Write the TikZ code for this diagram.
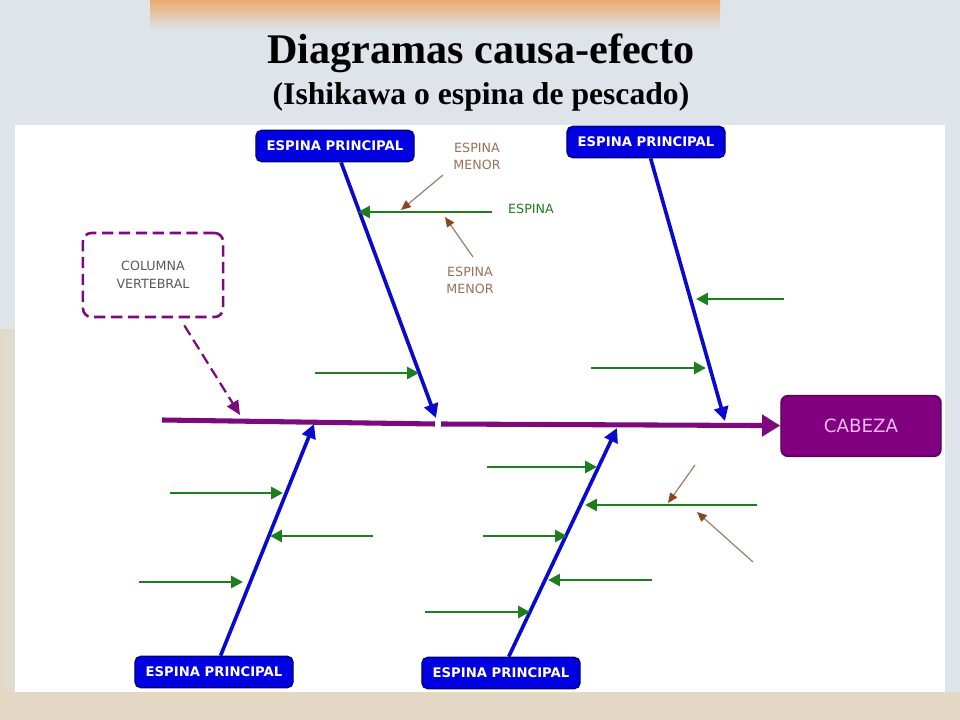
\documentclass[tikz,border=0pt]{standalone}
\usepackage{fontspec}
\setsansfont{DejaVu Sans}
\newfontfamily\titlefont{Liberation Serif}
\usetikzlibrary{arrows.meta}
\definecolor{bgblue}{RGB}{222,228,234}
\definecolor{bgbeige}{RGB}{226,216,196}
\definecolor{bgorange}{RGB}{236,170,110}
\definecolor{spinepurple}{RGB}{125,10,125}
\definecolor{headpurple}{RGB}{128,0,128}
\definecolor{headedge}{RGB}{90,0,90}
\definecolor{headtext}{RGB}{240,185,240}
\definecolor{boxblue}{RGB}{0,0,225}
\definecolor{navyedge}{RGB}{0,0,130}
\definecolor{boneblue}{RGB}{10,10,205}
\definecolor{causegreen}{RGB}{30,125,30}
\definecolor{brownline}{RGB}{160,130,110}
\definecolor{brownhead}{RGB}{140,70,30}
\definecolor{menortext}{RGB}{155,112,85}

\begin{document}
\begin{tikzpicture}
  [x=0.025cm,y=-0.025cm,
   principal/.style={rectangle,rounded corners=4pt,draw=navyedge,fill=boxblue,line width=1pt,
                     text=white,font=\sffamily\bfseries\fontsize{9.4}{11}\selectfont,
                     inner sep=0,minimum width=3.95cm,minimum height=0.78cm},
   head/.style={rectangle,rounded corners=5pt,draw=headedge,fill=headpurple,line width=1pt,
                text=headtext,font=\sffamily\fontsize{13}{15}\selectfont,
                inner sep=0,minimum width=4cm,minimum height=1.52cm},
   column/.style={rectangle,rounded corners=6pt,draw=spinepurple,line width=1.8pt,
                  dash pattern=on 8pt off 4pt,text=black!65,align=center,
                  font=\sffamily\fontsize{9}{12.5}\selectfont,
                  minimum width=3.5cm,minimum height=2.1cm},
   minor/.style={text=menortext,font=\sffamily\fontsize{9}{12}\selectfont,align=center},
   spine/.style={line width=3.6pt,draw=spinepurple},
   bone/.style={line width=2.6pt,draw=boneblue,-{Triangle[length=10pt,width=10pt]}},
   cause/.style={line width=2pt,draw=causegreen,-{Triangle[length=8.5pt,width=8.5pt]}},
   subcause/.style={line width=0.9pt,draw=brownline,-{Triangle[length=7pt,width=6pt,color=brownhead]}}]
  % background
  \fill[bgblue] (0,0) rectangle (960,720);
  \shade[top color=bgorange,bottom color=bgblue] (150,0) rectangle (720,30);
  \shade[left color=bgbeige,right color=bgblue] (0,330) rectangle (40,692);
  \fill[bgbeige] (0,692) rectangle (960,720);
  \fill[white] (15,125) rectangle (945,692);
  % title
  \node[anchor=base,font=\titlefont\bfseries\fontsize{30}{30}\selectfont] (title) at (481,64)
    {Diagramas causa-efecto};
  \node[anchor=base,font=\titlefont\bfseries\fontsize{22.5}{24}\selectfont] (subtitle) at (481,105)
    {(Ishikawa o espina de pescado)};
  % nodes
  \node[principal] (p1) at (335,146) {ESPINA PRINCIPAL};
  \node[principal] (p2) at (646,142) {ESPINA PRINCIPAL};
  \node[principal] (p3) at (214,672) {ESPINA PRINCIPAL};
  \node[principal] (p4) at (501,673) {ESPINA PRINCIPAL};
  \node[head] (cab) at (861,426) {CABEZA};
  \node[column] (col) at (153,275) {COLUMNA\\VERTEBRAL};
  \node[minor] (menor1) at (477,156) {ESPINA\\MENOR};
  \node[minor] (menor2) at (470,280) {ESPINA\\MENOR};
  \node[text=causegreen,font=\sffamily\fontsize{9}{12}\selectfont] (espina) at (531,209) {ESPINA};
  % spine
  \coordinate (s1) at (162,420);
  \coordinate (s2) at (435,424);
  \coordinate (s3) at (441,424);
  \coordinate (colend) at (240,415);
  \draw[spine] (s1) -- (s2);
  \draw[spine,-{Triangle[length=13pt,width=15pt]}] (s3) -- (cab);
  \draw[spinepurple,line width=1.6pt,dash pattern=on 8pt off 4pt,shorten <=6pt,
        -{Triangle[length=10pt,width=9pt]}] (col) -- (colend);
  % main bones
  \coordinate (t1) at (436,418);
  \coordinate (t2) at (725,421);
  \coordinate (t3) at (314,424);
  \coordinate (t4) at (617,428);
  \draw[bone] (p1) -- (t1);
  \draw[bone] (p2) -- (t2);
  \draw[bone] (p3) -- (t3);
  \draw[bone] (p4) -- (t4);
  % causes
  \foreach \n/\a/\b/\y in {g1/492/358/212, g2/315/419/373, g3/784/696/299, g4/591/706/368,
                           g5/170/283/493, g6/373/270/536, g7/139/243/582,
                           g8/487/597/467, g9/757/585/505, g10/483/567/536,
                           g11/652/548/580, g12/425/530/612}
  {
    \coordinate (\n a) at (\a,\y);
    \coordinate (\n b) at (\b,\y);
    \draw[cause] (\n a) -- (\n b);
  }
  % minor causes
  \foreach \n/\xa/\ya/\xb/\yb in {m1/443/175/401/210, m2/473/257/445/217,
                                  m3/695/465/668/503, m4/753/562/697/512}
  {
    \coordinate (\n a) at (\xa,\ya);
    \coordinate (\n b) at (\xb,\yb);
    \draw[subcause] (\n a) -- (\n b);
  }
\end{tikzpicture}
\end{document}
